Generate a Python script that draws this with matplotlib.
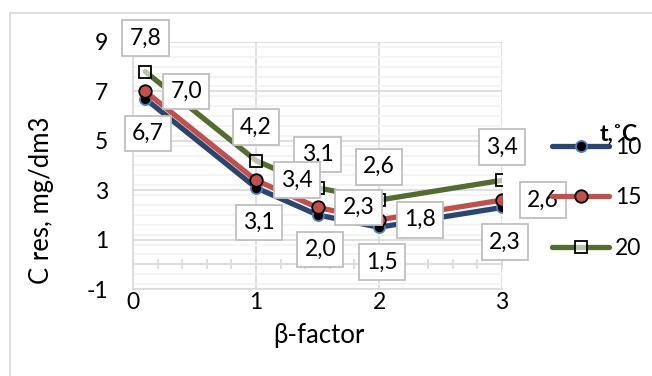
import matplotlib
matplotlib.use("Agg")
import matplotlib.pyplot as plt
from matplotlib.ticker import MultipleLocator, FixedLocator

plt.rcParams['font.family'] = ['Lato', 'DejaVu Sans']
plt.rcParams['axes.unicode_minus'] = False

beta = [0.1, 1.0, 1.5, 2.0, 3.0]
c_10 = [6.7, 3.1, 2.0, 1.5, 2.3]
c_15 = [7.0, 3.4, 2.3, 1.8, 2.6]
c_20 = [7.8, 4.2, 3.1, 2.6, 3.4]
series_names = ["10", "15", "20"]
legend_title = "t,˚C"
x_ticks = [0, 1, 2, 3]
y_ticks = [-1, 1, 3, 5, 7, 9]

FS = 16.5
FS_T = 18.5
fig = plt.figure(figsize=(6.52, 3.76), dpi=100)
ax = fig.add_axes([133/652, 1-289/376, (502-133)/652, (289-42)/376])
ax.set_xlim(0, 3)
ax.set_ylim(-1, 9)

grid_major = '#D9D9D9'
grid_minor = '#F2F2F2'
ax.yaxis.set_major_locator(FixedLocator(y_ticks))
ax.yaxis.set_minor_locator(MultipleLocator(0.4))
ax.grid(True, which='major', axis='y', color=grid_major, lw=1.2, zorder=0)
ax.grid(True, which='minor', axis='y', color=grid_minor, lw=1.2, zorder=0)
ax.xaxis.set_major_locator(FixedLocator(x_ticks))
ax.xaxis.set_minor_locator(MultipleLocator(0.2))
ax.grid(True, which='major', axis='x', color=grid_major, lw=1.2, zorder=0)
ax.set_axisbelow(True)

for s in ['top', 'right']:
    ax.spines[s].set_visible(False)
ax.spines['left'].set_color(grid_major)
ax.spines['left'].set_linewidth(1.2)
ax.spines['bottom'].set_position(('data', 0))
ax.spines['bottom'].set_color(grid_major)
ax.spines['bottom'].set_linewidth(1.2)
ax.tick_params(axis='x', which='both', direction='inout', length=7, color=grid_major,
               width=1.2, labelbottom=False)
ax.tick_params(axis='y', which='both', length=0, labelsize=FS, pad=18)

sec = ax.secondary_xaxis('bottom')
sec.set_xticks(x_ticks)
sec.tick_params(length=0, labelsize=FS, pad=2)
sec.spines['bottom'].set_color(grid_major)
sec.spines['bottom'].set_linewidth(1.2)

fig.text(319/652, 1-335/376, "β-factor", fontsize=FS_T, ha='center', va='center')
fig.text(42/652, 1-200/376, "C res, mg/dm3", fontsize=FS_T, ha='center', va='center',
         rotation=90)

l10, = ax.plot(beta, c_10, color='#2A4670', lw=3.8, marker='o', ms=8,
               mfc='black', mec='#4F81BD', mew=1.3, zorder=3, label=series_names[0],
               solid_capstyle='round')
l15, = ax.plot(beta, c_15, color='#C0504D', lw=3.8, marker='o', ms=9,
               mfc='#C0504D', mec='black', mew=1.3, zorder=4, label=series_names[1],
               solid_capstyle='round')
l20, = ax.plot(beta, c_20, color='#556B2F', lw=3.8, marker='s', ms=8.5,
               mfc=(1, 1, 1, 0.6), mec='black', mew=1.3, zorder=2, label=series_names[2],
               solid_capstyle='round')

box = dict(boxstyle='square,pad=0.32', fc='white', ec='#BFBFBF', lw=1.3)

def fmt(v):
    return f"{v:.1f}".replace('.', ',')

for x, y in zip(beta, c_20):
    ax.annotate(fmt(y), (x, y), xytext=(0, 24), textcoords='offset points',
                ha='center', va='center', fontsize=FS, bbox=box, zorder=6)
for x, y in zip(beta, c_15):
    ax.annotate(fmt(y), (x, y), xytext=(29.5, 0), textcoords='offset points',
                ha='center', va='center', fontsize=FS, bbox=box, zorder=6)
for x, y in zip(beta, c_10):
    ax.annotate(fmt(y), (x, y), xytext=(2, -25), textcoords='offset points',
                ha='center', va='center', fontsize=FS, bbox=box, zorder=6)

leg = fig.legend(handles=[l10, l15, l20], loc='center left',
                 bbox_to_anchor=(543/652, 1-198/376), frameon=False,
                 fontsize=FS, handlelength=2.5, handletextpad=0.25,
                 labelspacing=1.3, borderaxespad=0)
leg.set_zorder(10)
fig.text(600/652, 1-134/376, legend_title, fontsize=FS, fontweight='bold',
         ha='left', va='center', zorder=11)

# chart border
fig.add_artist(plt.Line2D([10/652, 10/652], [0, 1-13/376], color='#D9D9D9', lw=1.2,
                          transform=fig.transFigure))
fig.add_artist(plt.Line2D([10/652, 1], [1-13/376, 1-13/376], color='#D9D9D9', lw=1.2,
                          transform=fig.transFigure))

fig.savefig("out.png", dpi=100)
